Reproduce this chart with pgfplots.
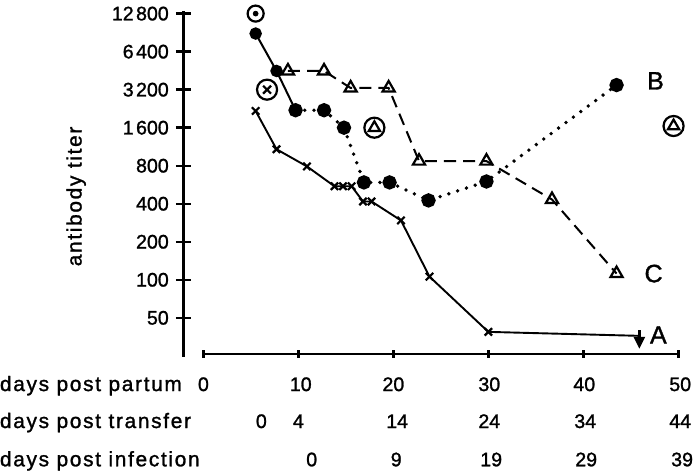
\documentclass[border=0pt]{standalone}
\usepackage{fontspec}
\setmainfont{Liberation Sans}[FakeBold=1.3]
\newfontfamily\spaced[LetterSpace=8,FakeBold=1.3]{Liberation Sans}
\usepackage{pgfplots}
\pgfplotsset{compat=1.18}
\usetikzlibrary{arrows.meta}
\tikzset{num/.style={anchor=base, inner sep=0pt, font=\fontsize{9.75}{11}\selectfont},
  rowlab/.style={anchor=base west, inner sep=0pt, font=\spaced\fontsize{10.4}{12}\selectfont},
  xtk/.style={line width=1.2pt}}

\begin{document}
\begin{tikzpicture}
\begin{axis}[
  scale only axis, width=246.5pt, height=172.5pt,
  xmin=-2.11, xmax=50, ymin=24.5, ymax=13520,
  ymode=log, log basis y=2,
  axis x line=none, axis y line=left,
  axis line style={-, line width=1.2pt},
  ytick={50,100,200,400,800,1600,3200,6400,12800},
  yticklabels={50,100,200,400,800,1\kern1.2pt600,3\kern1.2pt200,6\kern1.2pt400,12\kern1.2pt800},
  tick align=center, major tick length=7.5pt,
  tick style={line width=1.2pt, black},
  yticklabel style={font=\fontsize{9.75}{11}\selectfont},
  clip=false,
]
% series B (solid start, then dotted)
\addplot[black, line width=1pt, mark=*, mark size=2.6pt] coordinates {
 (5.5,8900) (7.7,4500) (9.7,2200)};
\addplot[black, line width=1.9pt, line cap=round, dash pattern=on 0pt off 4.6pt,
  mark=*, mark size=2.6pt, mark options={solid}] coordinates {
 (9.7,2200) (12.7,2200) (14.8,1600) (16.9,590) (19.6,590) (23.7,425) (29.8,600) (43.5,3480)};
% series C (dashed, triangles)
\addplot[black, line width=1pt, dash pattern=on 6pt off 3.5pt,
  mark=triangle, mark size=3.5pt, mark options={solid, line width=1.1pt}] coordinates {
 (8.9,4500) (12.7,4500) (15.5,3300) (19.5,3300) (22.7,870) (29.8,870) (36.7,432) (43.5,112)};
% series A (solid, x)
\addplot[black, line width=0.95pt, mark=x, mark size=2.6pt, mark options={line width=1.1pt}] coordinates {
 (5.5,2170) (7.7,1080) (10.9,790) (13.8,550) (14.7,550) (15.6,550) (16.8,417) (17.7,417)
 (20.8,295) (23.8,106) (30,38.7)};
\addplot[black, line width=0.95pt, mark=none] coordinates {(30,38.7) (45.9,36)};
% circled special points
\addplot[only marks, black, mark=o, mark size=4pt, mark options={line width=1.1pt}] coordinates {(5.5,12800)};
\addplot[only marks, black, mark=o, mark size=5pt, mark options={line width=1.1pt}] coordinates {
 (6.7,3200) (18.0,1600) (49.5,1650)};
\addplot[only marks, black, mark=*, mark size=1.2pt] coordinates {(5.5,12800)};
\addplot[only marks, black, mark=x, mark size=2.8pt, mark options={line width=1.1pt}] coordinates {(6.7,3200)};
\addplot[only marks, black, mark=triangle, mark size=3.2pt, mark options={line width=1.1pt}] coordinates {(18.0,1600) (49.5,1650)};
% arrow
\draw[line width=1.2pt, -{Triangle[length=6pt,width=5.5pt]}] (axis cs:45.9,40) -- (axis cs:45.9,28.4);
% series labels
\node[font=\fontsize{12.5}{14}\selectfont] at (axis cs:47.6,3760) {B};
\node[font=\fontsize{12.5}{14}\selectfont] at (axis cs:47.4,112) {C};
\node[font=\fontsize{12.5}{14}\selectfont] at (axis cs:47.9,36.6) {A};
% x axis
\draw[xtk] (axis cs:0,25.9) -- (axis cs:50,25.9);
\draw[xtk] (axis cs:0,24.2) -- (axis cs:0,27.7);
\draw[xtk] (axis cs:10,24.2) -- (axis cs:10,27.7);
\draw[xtk] (axis cs:20,24.2) -- (axis cs:20,27.7);
\draw[xtk] (axis cs:30,24.2) -- (axis cs:30,27.7);
\draw[xtk] (axis cs:40,24.2) -- (axis cs:40,27.7);
\draw[xtk] (axis cs:50,24.2) -- (axis cs:50,27.7);
% y label
\node[rotate=90, font=\spaced\fontsize{10.4}{12}\selectfont] at (axis cs:-13.4,457) {antibody titer};
% row labels
\node[rowlab] at (axis cs:-21.46,13.16) {days post partum};
\node[rowlab] at (axis cs:-21.46,6.71) {days post transfer};
\node[rowlab] at (axis cs:-21.46,3.34) {days post infection};
% row values
\node[num] at (axis cs:0,13.16) {0};
\node[num] at (axis cs:10.25,13.16) {10};
\node[num] at (axis cs:20,13.16) {20};
\node[num] at (axis cs:30.1,13.16) {30};
\node[num] at (axis cs:40.1,13.16) {40};
\node[num] at (axis cs:50.2,13.16) {50};
\node[num] at (axis cs:6.1,6.71) {0};
\node[num] at (axis cs:10,6.71) {4};
\node[num] at (axis cs:20.4,6.71) {14};
\node[num] at (axis cs:30.1,6.71) {24};
\node[num] at (axis cs:40.2,6.71) {34};
\node[num] at (axis cs:50.2,6.71) {44};
\node[num] at (axis cs:11.4,3.34) {0};
\node[num] at (axis cs:20.3,3.34) {9};
\node[num] at (axis cs:30.3,3.34) {19};
\node[num] at (axis cs:40.3,3.34) {29};
\node[num] at (axis cs:50.4,3.34) {39};
\end{axis}
\end{tikzpicture}
\end{document}
